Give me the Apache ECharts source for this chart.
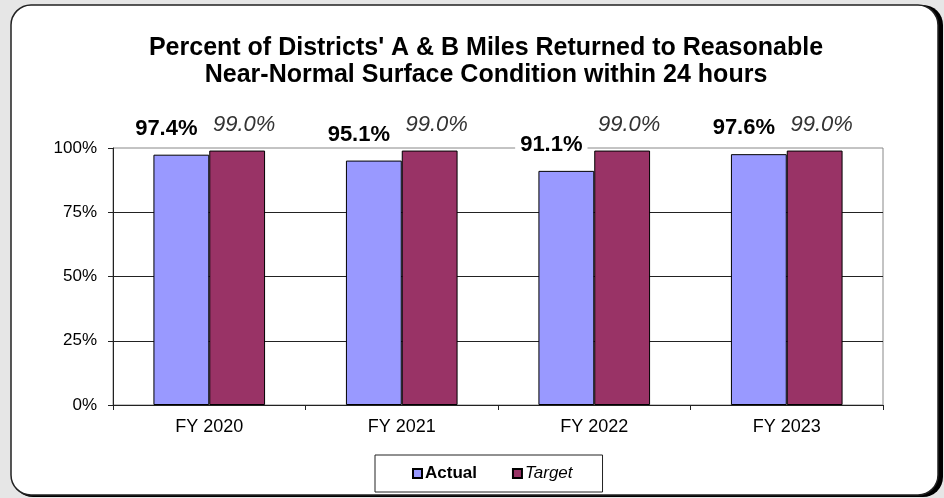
<!DOCTYPE html>
<html>
<head>
<meta charset="utf-8">
<script src="https://cdn.jsdelivr.net/npm/echarts@6/dist/echarts.min.js"></script>
<style>
html,body{margin:0;padding:0;background:#e6e6e6;}
#chart{width:944px;height:498px;}
</style>
</head>
<body>
<div id="chart"></div>
<script>
var titleLines = ["Percent of Districts' A & B Miles Returned to Reasonable", "Near-Normal Surface Condition within 24 hours"];
var categories = ["FY 2020", "FY 2021", "FY 2022", "FY 2023"];
var actualValues = [97.4, 95.1, 91.1, 97.6];
var targetValues = [99.0, 99.0, 99.0, 99.0];
var yTicks = [0, 25, 50, 75, 100];
var seriesNames = ["Actual", "Target"];

var chart = echarts.init(document.getElementById('chart'), null, {renderer: 'canvas'});
var FONT = 'Liberation Sans, Arial, sans-serif';
chart.setOption({
  backgroundColor: 'transparent',
  animation: false,
  graphic: [
    {type: 'rect', z: -10, shape: {x: 13, y: 5, width: 930, height: 492, r: 20}, style: {fill: '#000'}},
    {type: 'rect', z: -9, shape: {x: 11, y: 5, width: 927, height: 490, r: 20}, style: {fill: '#fff', stroke: '#222', lineWidth: 1.5}}
  ],
  title: {
    text: titleLines.join('\n'),
    left: 481, top: 30, textAlign: 'center',
    textStyle: {fontFamily: FONT, fontSize: 25, fontWeight: 'bold', color: '#000', lineHeight: 27}
  },
  legend: {
    left: 375, top: 455,
    padding: [10, 30, 10, 37],
    itemWidth: 9, itemHeight: 9, itemGap: 35,
    borderColor: '#222', borderWidth: 1,
    icon: 'rect',
    data: [
      {name: seriesNames[0], textStyle: {fontWeight: 'bold', fontFamily: FONT, fontSize: 17, color: '#000'}},
      {name: seriesNames[1], textStyle: {fontStyle: 'italic', fontFamily: FONT, fontSize: 17, color: '#000'}}
    ],
    textStyle: {padding: [0, 0, 0, -2]}
  },
  grid: {left: 113, right: 61, top: 148, bottom: 93, show: true, borderColor: '#888', borderWidth: 1, backgroundColor: '#fff'},
  xAxis: {
    type: 'category', data: categories,
    axisLine: {lineStyle: {color: '#222', width: 1}},
    axisTick: {show: true, length: 5, lineStyle: {color: '#222'}},
    axisLabel: {fontFamily: FONT, fontSize: 18, color: '#000', margin: 13}
  },
  yAxis: {
    type: 'value', min: 0, max: 100, interval: 25,
    axisLine: {show: true, lineStyle: {color: '#222', width: 1}},
    axisTick: {show: true, length: 5, lineStyle: {color: '#222'}},
    splitLine: {showMaxLine: false, lineStyle: {color: '#222', width: 1}},
    axisLabel: {fontFamily: FONT, fontSize: 17, color: '#000', margin: 16, formatter: '{value}%'}
  },
  series: [
    {
      name: seriesNames[0], type: 'bar', data: actualValues,
      barGap: '0%', barCategoryGap: '42%',
      itemStyle: {color: '#9999FF', borderColor: '#000', borderWidth: 1},
      label: {
        show: true, position: 'top', distance: 14, offset: [-15, 0],
        formatter: function (p) { return p.value.toFixed(1) + '%'; },
        fontFamily: FONT, fontSize: 22, fontWeight: 'bold', color: '#000',
        backgroundColor: '#fff', padding: [0, 5], lineHeight: 24
      }
    },
    {
      name: seriesNames[1], type: 'bar', data: targetValues,
      barGap: '0%', barCategoryGap: '42%',
      itemStyle: {color: '#993366', borderColor: '#000', borderWidth: 1},
      label: {
        show: true, position: 'top', distance: 14, offset: [7, 0],
        formatter: function (p) { return p.value.toFixed(1) + '%'; },
        fontFamily: FONT, fontSize: 22, fontStyle: 'italic', color: '#333',
        backgroundColor: '#fff', padding: [0, 5], lineHeight: 24
      }
    }
  ]
});
</script>
</body>
</html>
